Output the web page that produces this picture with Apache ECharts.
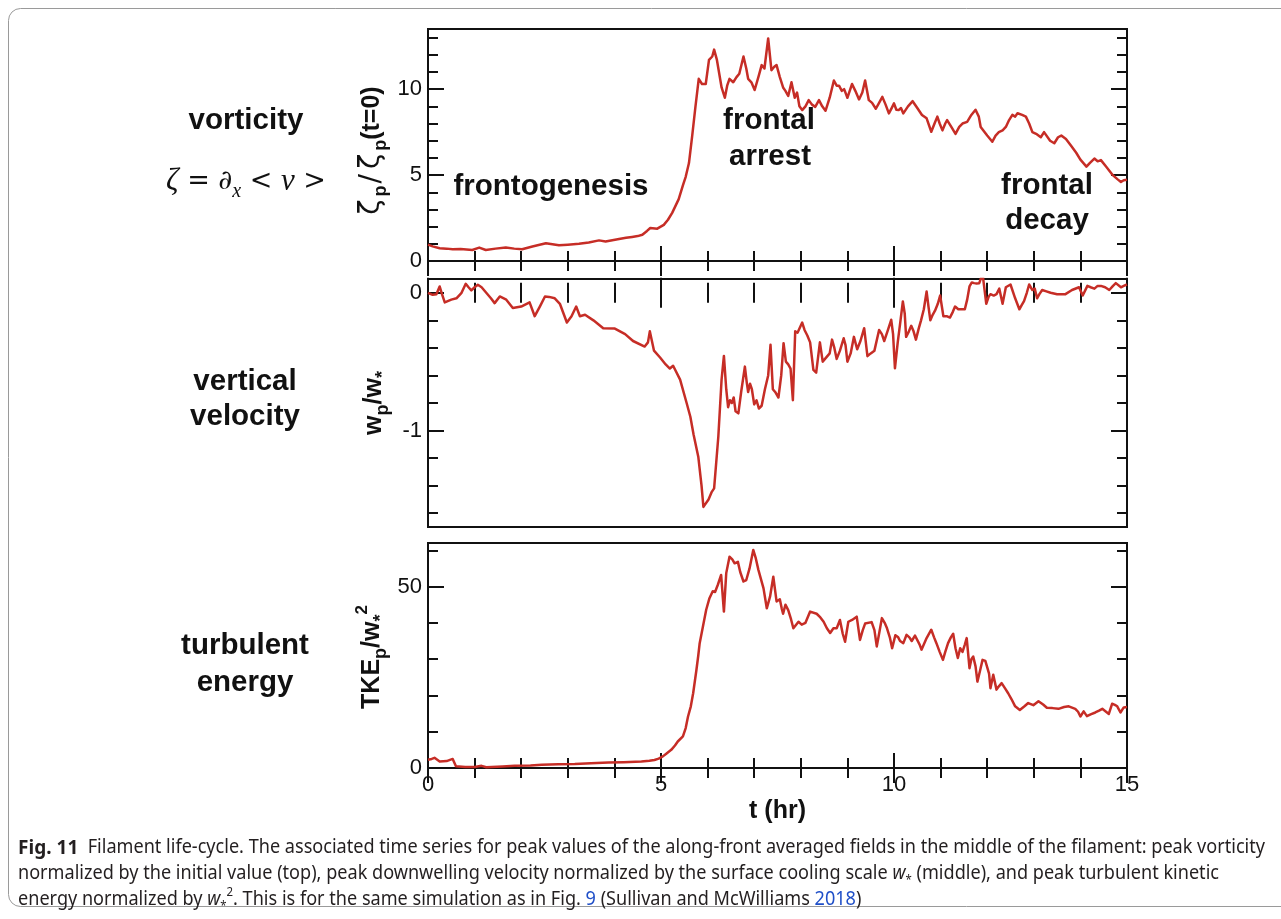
<!DOCTYPE html>
<html>
<head>
<meta charset="utf-8">
<title>Filament life-cycle</title>
<script src="https://cdn.jsdelivr.net/npm/echarts@6/dist/echarts.min.js"></script>
<style>
  html, body { margin: 0; padding: 0; background: #fff; }
  #chart { width: 1281px; height: 919px; }
</style>
</head>
<body>
<div id="chart"></div>
<script>
// ---- data: time (hr) and normalised peak values ----
const timeRange = [0, 15];
const timeTicks = [0, 5, 10, 15];

// peak vorticity normalised by its initial value
const vorticity = [
  [0.0,0.95],[0.1,0.85],[0.25,0.74],[0.4,0.72],[0.53,0.68],[0.7,0.7],[0.95,0.64],[1.1,0.78],[1.24,0.64],[1.45,0.72],
  [1.67,0.79],[1.85,0.72],[2.02,0.68],[2.24,0.84],[2.53,1.03],[2.81,0.92],[3.0,0.95],[3.24,1.0],[3.45,1.08],[3.67,1.2],
  [3.81,1.14],[4.1,1.28],[4.25,1.35],[4.38,1.4],[4.5,1.45],[4.6,1.53],[4.7,1.75],[4.77,1.92],[4.92,1.88],[5.06,2.1],
  [5.15,2.4],[5.24,2.8],[5.38,3.6],[5.47,4.4],[5.53,4.9],[5.6,5.7],[5.67,7.3],[5.74,9.0],[5.81,10.6],[5.88,10.3],
  [5.96,10.3],[6.03,11.7],[6.1,11.9],[6.14,12.3],[6.2,11.7],[6.24,11.8],[6.3,10.1],[6.37,9.5],[6.42,10.2],[6.47,10.6],
  [6.55,10.4],[6.62,10.7],[6.68,10.9],[6.77,11.9],[6.83,11.2],[6.87,10.6],[6.94,10.4],[7.01,9.95],[7.1,10.8],[7.16,11.4],
  [7.22,11.2],[7.3,12.95],[7.37,11.1],[7.43,11.3],[7.48,11.4],[7.55,10.7],[7.62,10.1],[7.67,9.9],[7.73,9.6],[7.8,10.4],
  [7.87,9.5],[7.92,9.8],[7.97,9.0],[8.03,8.78],[8.1,9.0],[8.17,9.36],[8.24,9.1],[8.31,8.97],[8.39,9.36],[8.46,9.0],
  [8.53,8.74],[8.62,9.5],[8.71,10.5],[8.77,10.2],[8.82,10.2],[8.88,9.9],[8.93,10.0],[9.0,9.5],[9.05,9.9],[9.1,10.3],
  [9.17,9.9],[9.25,9.4],[9.32,9.8],[9.38,10.5],[9.46,9.36],[9.53,9.2],[9.61,8.86],[9.68,9.2],[9.75,9.55],[9.82,9.1],
  [9.89,8.59],[9.95,8.9],[10.0,9.17],[10.05,8.8],[10.1,8.78],[10.15,8.9],[10.2,8.59],[10.3,9.0],[10.4,9.3],[10.5,8.9],
  [10.6,8.5],[10.7,8.3],[10.8,7.52],[10.87,8.0],[10.93,8.4],[10.98,8.0],[11.04,7.6],[11.1,8.0],[11.14,8.2],[11.23,7.8],
  [11.32,7.4],[11.4,7.8],[11.47,8.0],[11.57,8.1],[11.66,8.5],[11.75,8.8],[11.82,8.4],[11.86,7.8],[11.9,7.8],[12.0,7.3],
  [12.11,6.94],[12.18,7.3],[12.25,7.5],[12.33,7.6],[12.4,7.8],[12.47,8.2],[12.54,8.5],[12.6,8.4],[12.65,8.6],[12.75,8.5],
  [12.83,8.4],[12.9,8.0],[12.97,7.5],[13.05,7.4],[13.15,7.2],[13.22,7.5],[13.26,7.4],[13.35,7.0],[13.44,6.85],[13.52,7.2],
  [13.59,7.3],[13.69,7.1],[13.8,6.7],[13.91,6.3],[14.0,5.9],[14.13,5.49],[14.2,5.7],[14.3,5.96],[14.37,5.8],[14.44,5.87],
  [14.55,5.5],[14.7,4.98],[14.8,4.75],[14.87,4.6],[14.93,4.7],[15.0,4.73]
];

// peak vertical velocity normalised by the surface cooling scale
const velocity = [
  [0.0,0.0],[0.1,-0.015],[0.18,-0.01],[0.25,0.046],[0.3,-0.01],[0.36,-0.07],[0.5,-0.05],[0.61,-0.04],[0.72,0.0],[0.81,0.065],
  [0.87,0.04],[0.93,0.017],[1.0,0.04],[1.07,0.058],[1.15,0.04],[1.25,0.0],[1.35,-0.04],[1.43,-0.075],[1.54,-0.027],[1.68,-0.05],
  [1.82,-0.11],[2.0,-0.1],[2.18,-0.07],[2.29,-0.17],[2.4,-0.1],[2.51,-0.027],[2.6,-0.03],[2.72,-0.04],[2.83,-0.08],[2.98,-0.216],
  [3.08,-0.17],[3.18,-0.1],[3.26,-0.17],[3.37,-0.16],[3.55,-0.2],[3.76,-0.257],[4.01,-0.26],[4.23,-0.3],[4.4,-0.35],[4.65,-0.39],
  [4.72,-0.36],[4.76,-0.28],[4.85,-0.42],[4.98,-0.47],[5.1,-0.52],[5.19,-0.55],[5.26,-0.53],[5.41,-0.63],[5.55,-0.8],[5.63,-0.9],
  [5.7,-1.03],[5.8,-1.19],[5.87,-1.4],[5.91,-1.554],[5.95,-1.56],[6.02,-1.5],[6.09,-1.445],[6.14,-1.42],[6.23,-1.045],[6.3,-0.63],
  [6.35,-0.458],[6.4,-0.7],[6.44,-0.83],[6.48,-0.78],[6.52,-0.8],[6.56,-0.76],[6.6,-0.86],[6.66,-0.875],[6.72,-0.72],[6.8,-0.536],
  [6.84,-0.65],[6.87,-0.72],[6.91,-0.66],[6.95,-0.7],[7.0,-0.81],[7.05,-0.78],[7.1,-0.84],[7.16,-0.82],[7.23,-0.7],[7.3,-0.6],
  [7.35,-0.378],[7.4,-0.7],[7.45,-0.72],[7.52,-0.76],[7.58,-0.6],[7.63,-0.366],[7.68,-0.5],[7.73,-0.52],[7.78,-0.55],[7.83,-0.78],
  [7.88,-0.28],[7.93,-0.29],[7.97,-0.3],[8.03,-0.216],[8.08,-0.27],[8.14,-0.31],[8.2,-0.36],[8.27,-0.56],[8.33,-0.58],[8.41,-0.36],
  [8.47,-0.5],[8.52,-0.48],[8.56,-0.49],[8.62,-0.44],[8.67,-0.34],[8.72,-0.4],[8.77,-0.48],[8.84,-0.42],[8.92,-0.33],[8.96,-0.38],
  [9.0,-0.5],[9.07,-0.44],[9.14,-0.32],[9.21,-0.41],[9.28,-0.35],[9.36,-0.257],[9.43,-0.46],[9.5,-0.44],[9.58,-0.42],[9.68,-0.27],
  [9.74,-0.3],[9.79,-0.35],[9.86,-0.28],[9.94,-0.196],[9.98,-0.3],[10.02,-0.548],[10.08,-0.36],[10.14,-0.2],[10.19,-0.063],[10.23,-0.15],
  [10.26,-0.32],[10.32,-0.28],[10.37,-0.24],[10.42,-0.28],[10.47,-0.34],[10.53,-0.26],[10.58,-0.2],[10.64,-0.12],[10.7,0.009],[10.74,-0.1],
  [10.78,-0.2],[10.83,-0.16],[10.88,-0.13],[10.94,-0.08],[10.99,-0.02],[11.06,-0.17],[11.13,-0.17],[11.2,-0.18],[11.26,-0.14],[11.31,-0.1],
  [11.38,-0.12],[11.45,-0.12],[11.52,-0.12],[11.57,-0.05],[11.62,0.046],[11.67,0.075],[11.72,0.07],[11.77,0.068],[11.83,0.07],[11.87,0.11],
  [11.9,0.14],[11.98,-0.08],[12.03,-0.03],[12.07,-0.01],[12.14,-0.02],[12.2,-0.01],[12.26,0.03],[12.33,-0.08],[12.4,0.04],[12.5,0.06],
  [12.6,-0.04],[12.69,-0.12],[12.74,-0.09],[12.79,-0.06],[12.85,0.0],[12.9,0.06],[12.97,0.02],[13.02,0.03],[13.07,-0.04],[13.12,-0.01],
  [13.18,0.02],[13.27,0.01],[13.36,0.0],[13.5,-0.01],[13.68,-0.01],[13.82,0.02],[13.97,0.04],[14.05,-0.02],[14.15,0.05],[14.22,0.04],
  [14.3,0.03],[14.37,0.05],[14.44,0.05],[14.53,0.04],[14.62,0.02],[14.7,0.05],[14.76,0.07],[14.87,0.04],[14.93,0.05],[15.0,0.06]
];

// peak turbulent kinetic energy normalised by w*^2
const tke = [
  [0.0,2.3],[0.08,2.5],[0.14,2.8],[0.25,1.8],[0.4,1.9],[0.53,2.5],[0.6,0.45],[0.8,0.3],[1.0,0.3],[1.15,0.6],
  [1.25,0.2],[1.6,0.4],[1.86,0.6],[2.2,0.7],[2.44,0.9],[2.8,1.0],[3.15,1.1],[3.5,1.3],[3.87,1.5],[4.2,1.6],
  [4.58,1.8],[4.75,2.0],[4.86,2.2],[4.95,2.6],[5.04,3.2],[5.12,4.0],[5.22,5.0],[5.3,6.2],[5.36,7.3],[5.47,8.7],
  [5.53,11],[5.58,14.2],[5.64,17],[5.69,20.6],[5.76,27],[5.8,31],[5.83,34.4],[5.9,39],[5.97,43.6],[6.04,46.8],
  [6.11,48.7],[6.16,48.5],[6.22,50.5],[6.29,53.2],[6.35,43.1],[6.4,53.7],[6.47,58.2],[6.53,57.5],[6.58,56.4],[6.65,56.8],
  [6.7,54],[6.77,51.4],[6.83,51.8],[6.9,55],[6.98,60.1],[7.03,58],[7.09,54.6],[7.2,49.5],[7.27,44],[7.34,47.2],
  [7.41,52.7],[7.48,45.9],[7.55,46.5],[7.59,44],[7.62,42.5],[7.67,45],[7.73,43.5],[7.79,41],[7.84,38.5],[7.9,39.5],
  [7.95,40.3],[8.02,39.5],[8.1,40],[8.2,43.1],[8.34,42.5],[8.42,41.5],[8.49,40.3],[8.56,38.5],[8.63,37.2],[8.7,38.5],
  [8.77,38.5],[8.84,40.8],[8.9,37],[8.95,34.8],[9.02,40.3],[9.1,40.8],[9.2,41.7],[9.27,35.3],[9.33,38],[9.38,39.8],
  [9.52,40.2],[9.58,38],[9.63,33.5],[9.68,37],[9.74,41.3],[9.8,40],[9.85,38.5],[9.91,36],[9.96,33],[10.03,36.6],
  [10.09,36],[10.13,35],[10.2,34.4],[10.27,36.7],[10.33,36],[10.38,35],[10.45,36.5],[10.49,36.7],[10.55,34],[10.59,32.6],
  [10.7,35.8],[10.8,38.1],[10.86,36],[10.91,34.4],[10.98,32],[11.05,29.8],[11.1,32],[11.16,34.4],[11.22,36],[11.27,37],
  [11.32,33],[11.37,30.3],[11.42,33],[11.47,32],[11.52,34],[11.56,35.8],[11.62,27.5],[11.66,30],[11.7,30.7],[11.75,28],
  [11.79,23.8],[11.85,27],[11.9,29.8],[11.96,29.5],[12.0,29.2],[12.04,26],[12.07,22],[12.13,25.7],[12.2,21.6],[12.25,22.5],
  [12.31,23.4],[12.38,22],[12.45,20.6],[12.52,19],[12.6,17],[12.7,16],[12.8,17],[12.88,17.9],[12.99,17.3],[13.1,18.4],
  [13.2,17.5],[13.28,16.6],[13.4,16.5],[13.53,16.3],[13.65,16.8],[13.75,17],[13.89,16.3],[13.95,15.5],[14.0,14.2],[14.07,15.6],
  [14.14,14.3],[14.22,14.8],[14.32,15.3],[14.4,15.8],[14.47,16.3],[14.55,15.5],[14.61,14.9],[14.68,17.7],[14.74,17.4],[14.79,17],
  [14.86,15.3],[14.93,16.7],[15.0,16.8]
];

// value ranges and tick positions for the three panels
const vortRange = [0, 13.5];
const vortLabels = [0, 5, 10];
const vortMinor = [0, 1, 2, 3, 4, 5, 6, 7, 8, 9, 10, 11, 12, 13];
const velRange = [-1.7, 0.1];
const velLabels = [-1, 0];
const velMinor = [-1.6, -1.4, -1.2, -1, -0.8, -0.6, -0.4, -0.2, 0];
const tkeRange = [0, 62];
const tkeLabels = [0, 50];
const tkeMinor = [0, 10, 20, 30, 40, 50, 60];

// ---- styling ----
const INK = '#111';
const CURVE = '#c62d26';
const SANS = '"Liberation Sans", Arial, Helvetica, sans-serif';
const PLOT_LEFT = 428, PLOT_WIDTH = 699;

const panels = [
  { top: 29,  height: 232, range: vortRange, labels: vortLabels, minor: vortMinor, data: vorticity },
  { top: 279, height: 248, range: velRange,  labels: velLabels,  minor: velMinor,  data: velocity },
  { top: 543, height: 225, range: tkeRange,  labels: tkeLabels,  minor: tkeMinor,  data: tke }
];

const tickLine = { color: INK, width: 2 };
const grids = [], xAxes = [], yAxes = [], series = [];

panels.forEach((p, gi) => {
  grids.push({
    left: PLOT_LEFT, width: PLOT_WIDTH, top: p.top, height: p.height,
    show: true, borderColor: INK, borderWidth: 2, backgroundColor: 'transparent'
  });
  const isLast = gi === panels.length - 1;
  ['bottom', 'top'].forEach(pos => {
    xAxes.push({
      type: 'value', gridIndex: gi, position: pos,
      min: timeRange[0], max: timeRange[1], interval: 5,
      axisLine: { show: false }, splitLine: { show: false },
      axisTick: { show: true, inside: true, length: 15, lineStyle: tickLine },
      minorTick: { show: true, splitNumber: 5, length: 10, lineStyle: tickLine },
      axisLabel: {
        show: isLast && pos === 'bottom', margin: 6,
        fontFamily: SANS, fontSize: 22, color: INK,
        customValues: timeTicks
      },
      name: isLast && pos === 'bottom' ? 't (hr)' : '',
      nameLocation: 'middle', nameGap: 31,
      nameTextStyle: { fontFamily: SANS, fontWeight: 'bold', fontSize: 25, color: INK }
    });
  });
  ['left', 'right'].forEach(pos => {
    // major ticks (labelled on the left)
    yAxes.push({
      type: 'value', gridIndex: gi, position: pos, min: p.range[0], max: p.range[1],
      axisLine: { show: false }, splitLine: { show: false },
      axisTick: { show: true, inside: true, length: 16, lineStyle: tickLine, customValues: p.labels },
      axisLabel: {
        show: pos === 'left', customValues: p.labels, margin: 6,
        fontFamily: SANS, fontSize: 22, color: INK
      }
    });
    // minor ticks
    yAxes.push({
      type: 'value', gridIndex: gi, position: pos, min: p.range[0], max: p.range[1],
      axisLine: { show: false }, splitLine: { show: false },
      axisTick: { show: true, inside: true, length: 10, lineStyle: tickLine, customValues: p.minor },
      axisLabel: { show: false }
    });
  });
  series.push({
    type: 'line', xAxisIndex: gi * 2, yAxisIndex: gi * 4,
    data: p.data, showSymbol: false, symbol: 'none', clip: true,
    lineStyle: { color: CURVE, width: 2.5, join: 'round' }, silent: true, animation: false
  });
});

// ---- text blocks ----
const boldLabel = (text, x, y) => ({
  type: 'text', x, y, silent: true,
  style: { text, fill: INK, font: 'bold 29.5px ' + SANS, align: 'center', verticalAlign: 'middle' }
});

const axisNameRich = {
  b:  { fontFamily: SANS, fontWeight: 'bold', fontSize: 25, fill: INK, lineHeight: 36 },
  g:  { fontFamily: '"DejaVu Sans", sans-serif', fontSize: 28, fill: INK, lineHeight: 36, padding: [0, 3, 0, 3] },
  sl: { fontFamily: '"DejaVu Sans", sans-serif', fontSize: 28, fill: INK, lineHeight: 36, padding: [0, 2, 0, 2] },
  s:  { fontFamily: SANS, fontWeight: 'bold', fontSize: 18, fill: INK, lineHeight: 18, verticalAlign: 'bottom' },
  up: { fontFamily: SANS, fontWeight: 'bold', fontSize: 17, fill: INK, lineHeight: 17, verticalAlign: 'top' }
};
const axisName = (text, x, y) => ({
  type: 'text', x, y, rotation: Math.PI / 2, silent: true,
  style: { text, rich: axisNameRich, align: 'center', verticalAlign: 'middle' }
});

const mathRich = {
  i: { fontFamily: '"Liberation Serif", "DejaVu Serif", serif', fontStyle: 'italic', fontSize: 31, fill: INK, lineHeight: 40 },
  n: { fontFamily: '"DejaVu Serif", serif', fontSize: 27, fill: INK, lineHeight: 40 },
  s: { fontFamily: '"Liberation Serif", serif', fontStyle: 'italic', fontSize: 20, fill: INK, lineHeight: 20, verticalAlign: 'bottom' }
};

// caption, condensed horizontally to fill the figure width
const CAP = '"Noto Sans", "Open Sans", sans-serif';
const CAP_INK = '#231f20';
const LINK = '#1f4fc8';
const capSize = 19;
const capLine1a = 'Fig. 11';
const capLine1b = '  Filament life-cycle. The associated time series for peak values of the along-front averaged fields in the middle of the filament: peak vorticity';
const capLine2a = 'normalized by the initial value (top), peak downwelling velocity normalized by the surface cooling scale ';
const capLine2b = ' (middle), and peak turbulent kinetic';
const capLine3a = 'energy normalized by ';
const capLine3b = '. This is for the same simulation as in Fig. ';
const capLine3c = ' (Sullivan and McWilliams ';
const capLine3d = ')';
const capFig = '9', capYear = '2018';

const ctx = document.createElement('canvas').getContext('2d');
function widthOf(font, text) { ctx.font = font; return ctx.measureText(text).width; }
const line1Width = widthOf('bold ' + (capSize + 1) + 'px ' + CAP, capLine1a) + widthOf(capSize + 'px ' + CAP, capLine1b);
const capScale = (1265 - 18) / line1Width;

const capRich = {
  b: { fontFamily: CAP, fontWeight: 'bold', fontSize: capSize + 1, fill: CAP_INK, lineHeight: 26 },
  n: { fontFamily: CAP, fontSize: capSize, fill: CAP_INK, lineHeight: 26 },
  i: { fontFamily: CAP, fontStyle: 'italic', fontSize: capSize, fill: CAP_INK, lineHeight: 26 },
  sub: { fontFamily: CAP, fontSize: 12, fill: CAP_INK, lineHeight: 12, verticalAlign: 'bottom' },
  sup: { fontFamily: CAP, fontSize: 12, fill: CAP_INK, lineHeight: 12, verticalAlign: 'top' },
  link: { fontFamily: CAP, fontSize: capSize, fill: LINK, lineHeight: 26 }
};
const capText = (text, y) => ({
  type: 'text', x: 18, y, scaleX: capScale, silent: true,
  style: { text, rich: capRich, align: 'left', verticalAlign: 'middle' }
});

const graphics = [
  { type: 'rect', silent: true, shape: { x: 8.5, y: 8.5, width: 1300, height: 898, r: 12 },
    style: { fill: 'none', stroke: '#9a9a9a', lineWidth: 1 } },

  boldLabel('vorticity', 246, 121),
  { type: 'text', x: 246, y: 182, silent: true,
    style: { text: '{i|ζ}{n| = ∂}{s|x}{n| < }{i|v}{n| >}', rich: mathRich, align: 'center', verticalAlign: 'middle' } },
  boldLabel('vertical', 245, 382),
  boldLabel('velocity', 245, 417),
  boldLabel('turbulent', 245, 646),
  boldLabel('energy', 245, 683),

  boldLabel('frontogenesis', 551, 187),
  boldLabel('frontal', 769, 121),
  boldLabel('arrest', 770, 157),
  boldLabel('frontal', 1047, 186),
  boldLabel('decay', 1047, 221),

  axisName('{g|ζ}{s|p}{sl|/}{g|ζ}{s|p}{b|(t=0)}', 372, 152),
  axisName('{b|w}{s|p}{b|/w}{s|*}', 374, 403),
  axisName('{b|TKE}{s|p}{b|/w}{s|*}{up|2}', 372, 657),

  capText('{b|' + capLine1a + '}{n|' + capLine1b + '}', 848),
  capText('{n|' + capLine2a + '}{i|w}{sub|*}{n|' + capLine2b + '}', 874),
  capText('{n|' + capLine3a + '}{i|w}{sub|*}{sup|2}{n|' + capLine3b + '}{link|' + capFig + '}{n|' +
          capLine3c + '}{link|' + capYear + '}{n|' + capLine3d + '}', 900)
];

const chart = echarts.init(document.getElementById('chart'), null, { renderer: 'canvas' });
chart.setOption({
  animation: false,
  backgroundColor: '#fff',
  grid: grids,
  xAxis: xAxes,
  yAxis: yAxes,
  series: series,
  graphic: graphics
});
</script>
</body>
</html>
